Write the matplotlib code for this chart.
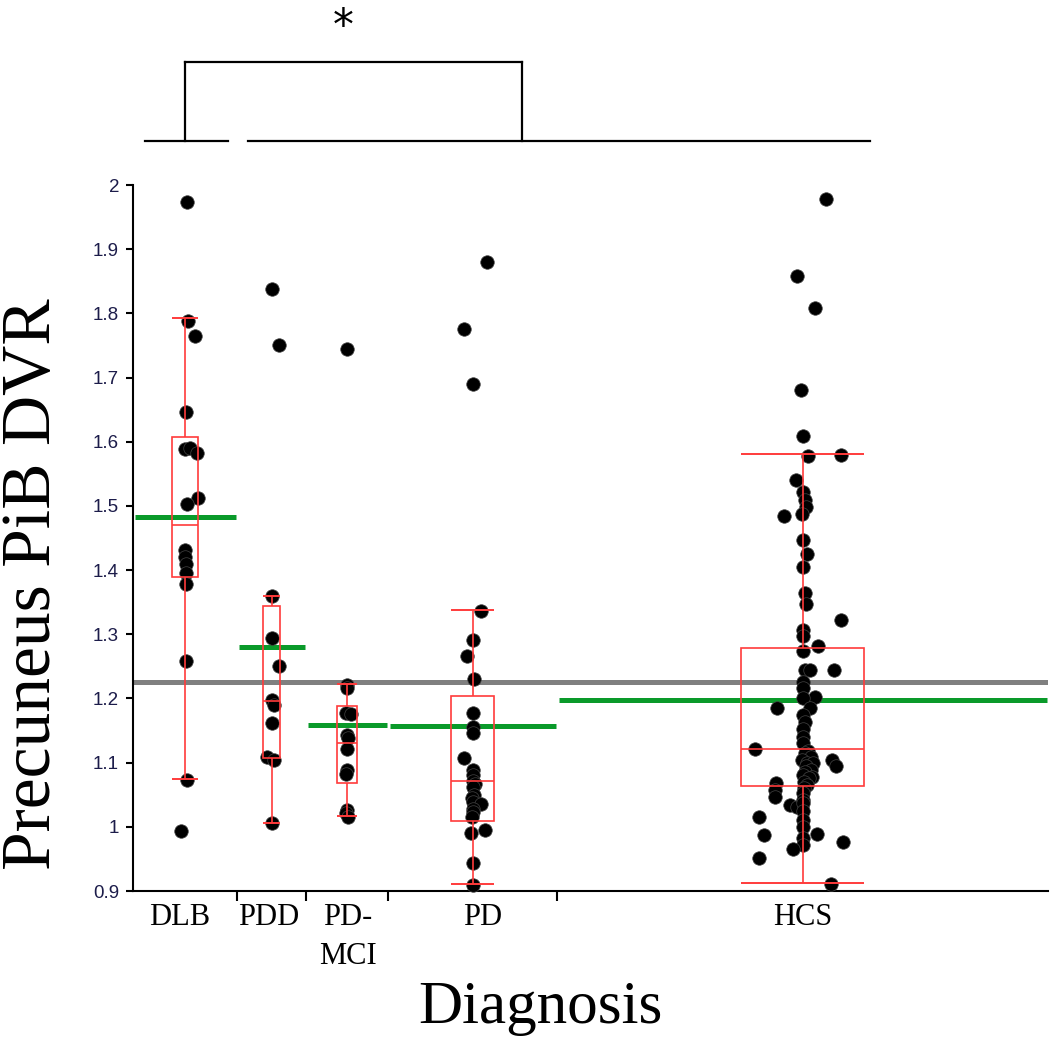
import numpy as np
import matplotlib
matplotlib.use('Agg')
import matplotlib.pyplot as plt
from matplotlib.lines import Line2D
import matplotlib.transforms as mtrans

# categories, widths along the x axis (JMP style, ~ group size)
cats = ['DLB', 'PDD', 'PD-MCI', 'PD', 'HCS']
cat_width = [104, 69, 82, 169, 491]

# precuneus PiB DVR values and horizontal jitter (px)
dlb = [1.974, 1.788, 1.764, 1.647, 1.588, 1.590, 1.583, 1.513, 1.503, 1.432,
       1.420, 1.410, 1.395, 1.379, 1.258, 1.073, 0.993]
dlb_jit = [2, 3, 10, 1, 0, 4.5, 12, 12.7, 2, 0, 0, 1, 1, 1, 1, 2.4, -4.5]

pdd = [1.838, 1.750, 1.360, 1.294, 1.251, 1.197, 1.190, 1.162, 1.109, 1.104, 1.006]
pdd_jit = [0.3, 7, 0.7, 0.7, 7.3, 0.7, 2, 0.7, -4.3, 2, 0.7]

pdmci = [1.745, 1.221, 1.216, 1.178, 1.176, 1.143, 1.138, 1.122, 1.088, 1.082,
         1.026, 1.021, 1.016]
pdmci_jit = [0, 0, 0, -1, 4.3, 0, 0.5, 0, 0, -1.3, 0, -1, 1.3]

pd_ = [1.880, 1.775, 1.690, 1.337, 1.291, 1.266, 1.230, 1.177, 1.155, 1.146,
       1.107, 1.089, 1.081, 1.071, 1.066, 1.062, 1.050, 1.045, 1.039, 1.035,
       1.028, 1.023, 1.015, 0.995, 0.990, 0.943, 0.909]
pd_jit = [14.3, -8.7, 0.3, 8.7, 0.3, -5.3, 1, 0.3, 0.3, 0, -8.7, 0, 0.3, 0, 2, 0,
          1, -1, 0, 8.7, 0, 0, -1, 12.7, -1.3, 0, 0]

hcs = [1.978, 1.858, 1.808, 1.681, 1.609, 1.577, 1.579, 1.540, 1.522, 1.509,
       1.499, 1.488, 1.484, 1.447, 1.425, 1.405, 1.364,
       1.347, 1.323, 1.306, 1.298, 1.281, 1.274, 1.245, 1.245, 1.245, 1.226,
       1.216, 1.203, 1.201, 1.185, 1.185, 1.174, 1.164, 1.153, 1.140, 1.130,
       1.121, 1.118, 1.115, 1.109, 1.104, 1.100, 1.099, 1.094, 1.089, 1.085,
       1.081, 1.078, 1.076, 1.070, 1.065, 1.060, 1.104, 1.094, 1.068, 1.057,
       1.047, 1.034, 1.031, 1.052, 1.042, 1.037, 1.025, 1.016, 1.011, 1.000,
       0.982, 0.972, 0.989, 0.987, 0.976, 0.965, 0.952, 0.911]
hcs_jit = [23, -5.3, 12.7, -1.3, 0.3, 5.3, 38, -7, 0.7, 2,
           3, -1, -18.7, 0.7, 4.3, 0.7, 2.3,
           3, 38, 0.7, 0.7, 15.7, 0.7, 2.3, 7.3, 31.7, 0.7,
           0.7, 12.3, 0.7, 7.3, -25.3, 0.7, 2.3, 0.7, 0.7, 0.7,
           -47.7, 5, 2, 8, -1, 4, 10, 3, 8, 2,
           0, 9, 6, 1, 4, 1, 29, 33, -26.7, -28,
           -27.7, -12.7, -6, 0.7, 0, 0.7, 0, -43.7, 0.7, 0.7,
           0.7, 0.7, 14.7, -38.3, 40.7, -9.3, -43.7, 28.3]

groups = [dlb, pdd, pdmci, pd_, hcs]
jitters = [dlb_jit, pdd_jit, pdmci_jit, pd_jit, hcs_jit]

# box plot summary
q1 = [1.389, 1.1075, 1.0676, 1.0095, 1.0636]
med = [1.470, 1.196, 1.130, 1.0713, 1.1216]
q3 = [1.608, 1.3439, 1.189, 1.2037, 1.279]
wlo = [1.0745, 1.006, 1.017, 0.9104, 0.9129]
whi = [1.7925, 1.360, 1.2224, 1.3377, 1.5816]
means = [1.4826, 1.280, 1.1586, 1.1565, 1.198]
grand_mean = 1.2256

yticks = [0.9, 1.0, 1.1, 1.2, 1.3, 1.4, 1.5, 1.6, 1.7, 1.8, 1.9, 2.0]
ytick_labels = ['0.9', '1', '1.1', '1.2', '1.3', '1.4', '1.5', '1.6', '1.7', '1.8', '1.9', '2']

W, H = 1050, 1047
fig = plt.figure(figsize=(W / 100, H / 100), dpi=100)
ax = fig.add_axes([133 / W, 1 - 891 / H, (1048 - 133) / W, (891 - 185) / H])

bounds = np.concatenate([[0], np.cumsum(cat_width)])
centers = (bounds[:-1] + bounds[1:]) / 2
ax.set_xlim(0, bounds[-1])
ax.set_ylim(0.9, 2.0)

red = '#ff3b3b'
green = '#0a9a2a'

ax.axhline(grand_mean, color='#808080', lw=3.6, zorder=1)
for i in range(len(cats)):
    l, r = bounds[i], bounds[i + 1]
    c, w = centers[i], cat_width[i]
    ax.hlines(means[i], l + 2, r - 1, color=green, lw=3.6, zorder=2)
    ax.scatter(c + np.array(jitters[i]), groups[i], s=95, color='black',
               edgecolors='#444444', linewidths=0.5, zorder=3, clip_on=False)
    hw = w * 0.125
    ax.add_patch(plt.Rectangle((c - hw, q1[i]), 2 * hw, q3[i] - q1[i], fill=False,
                               ec=red, lw=1.2, zorder=4))
    ax.hlines(med[i], c - hw, c + hw, color=red, lw=1.2, zorder=4)
    ax.vlines(c, q3[i], whi[i], color=red, lw=1.2, zorder=4)
    ax.vlines(c, wlo[i], q1[i], color=red, lw=1.2, zorder=4)
    ax.hlines([wlo[i], whi[i]], c - hw, c + hw, color=red, lw=1.4, zorder=4)

for s in ['top', 'right']:
    ax.spines[s].set_visible(False)
for s in ['left', 'bottom']:
    ax.spines[s].set_linewidth(1.5)

ax.set_yticks(yticks)
ax.set_yticklabels(ytick_labels, fontsize=13.5, color='#1c1c4a', family='Liberation Sans')
ax.tick_params(axis='y', direction='out', length=5, width=1.5, pad=5)
ax.set_xticks(bounds[1:-1])
ax.set_xticklabels([])
ax.tick_params(axis='x', direction='out', length=7, width=1.5)

# category labels
trans = mtrans.blended_transform_factory(ax.transData, fig.transFigure)
lab_shift = [-5, -3, 1, 10, 0]
for i, name in enumerate(cats):
    lines = name.replace('PD-MCI', 'PD-\nMCI').split('\n')
    for k, t in enumerate(lines):
        ax.text(centers[i] + lab_shift[i], 1 - (925 + 39 * k) / H, t, transform=trans,
                ha='center', va='baseline', fontsize=22, family='Liberation Serif')

fig.text(33 / W, 1 - 584 / H, 'Precuneus PiB DVR', rotation=90, ha='center', va='center',
         fontsize=50, family='Liberation Serif')
fig.text(540 / W, 1 - 1008 / H, 'Diagnosis', ha='center', va='center',
         fontsize=44, family='Liberation Serif')

# significance bracket above the plot
def seg(x0, y0, x1, y1):
    fig.add_artist(Line2D([x0 / W, x1 / W], [1 - y0 / H, 1 - y1 / H], color='black',
                          lw=1.6, transform=fig.transFigure))

seg(145, 141, 228, 141)
seg(248, 141, 870, 141)
seg(185, 141, 185, 62)
seg(185, 62, 522, 62)
seg(522, 62, 522, 141)
fig.text(343 / W, 1 - 27 / H, '*', ha='center', va='center', fontsize=30, family='DejaVu Sans')

fig.savefig('out.png', dpi=100)
